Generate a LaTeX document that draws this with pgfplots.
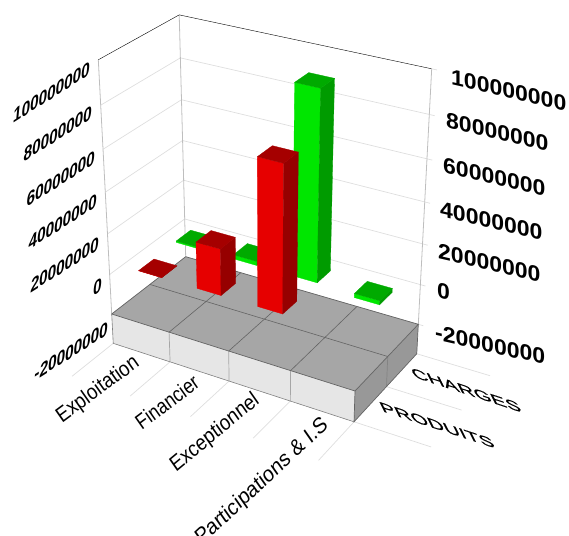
\documentclass[border=0pt]{standalone}
\usepackage{fontspec}
\setmainfont{Liberation Sans}
\newfontfamily\mediumfont[FakeBold=0.5]{Liberation Sans}
\usepackage{pgfplots}
\pgfplotsset{compat=1.18}
\definecolor{wallgrid}{RGB}{222,222,222}
\definecolor{walledge}{RGB}{190,190,190}
\definecolor{slabtop}{RGB}{166,166,166}
\definecolor{slabfront}{RGB}{230,230,230}
\definecolor{slabside}{RGB}{152,152,152}
\definecolor{slabline}{RGB}{100,100,100}
\definecolor{redfront}{RGB}{230,0,0}
\definecolor{redside}{RGB}{150,0,0}
\definecolor{redtop}{RGB}{165,0,0}
\definecolor{greenfront}{RGB}{0,230,0}
\definecolor{greenside}{RGB}{0,155,0}
\definecolor{greentop}{RGB}{0,170,0}
% Perspective projection of the chart box: x in category cells (0..4),
% y in series cells (0..2), z in millions (-20..100).
\tikzset{declare function={
  pw(\x,\y,\z)=1-0.07392*\x/4+0.06612*\y/2-0.08*(\z+20)/120;
  pu(\x,\y,\z)=(111.7+217.06*\x/4+86.28*\y/2-21.26*(\z+20)/120)/pw(\x,\y,\z);
  pv(\x,\y,\z)=(314+48.1*\x/4-40.33*\y/2-259*(\z+20)/120)/pw(\x,\y,\z);
}}
% One polygon or polyline given by its box coordinates
\newcommand\shape[2]{\addplot[#1] table[row sep=\\,
  x expr={pu(\thisrow{x},\thisrow{y},\thisrow{z})},
  y expr={pv(\thisrow{x},\thisrow{y},\thisrow{z})}]{x y z\\ #2};}
% One bar: category centre, series centre, value (millions), three colours
\newcommand\cube[6]{%
  \pgfmathsetmacro\ztop{max(#3,0)}%
  \addplot[fill=#4,draw=#4,line width=.3pt] table[row sep=\\,
    x expr={pu(#1+\thisrow{a}*.2,#2-.2,\thisrow{c}*#3)},
    y expr={pv(#1+\thisrow{a}*.2,#2-.2,\thisrow{c}*#3)}]
    {a c\\ -1 0\\ 1 0\\ 1 1\\ -1 1\\ -1 0\\};
  \addplot[fill=#5,draw=#5,line width=.3pt] table[row sep=\\,
    x expr={pu(#1+.2,#2+\thisrow{b}*.2,\thisrow{c}*#3)},
    y expr={pv(#1+.2,#2+\thisrow{b}*.2,\thisrow{c}*#3)}]
    {b c\\ -1 0\\ 1 0\\ 1 1\\ -1 1\\ -1 0\\};
  \addplot[fill=#6,draw=#6,line width=.3pt] table[row sep=\\,
    x expr={pu(#1+\thisrow{a}*.2,#2+\thisrow{b}*.2,\ztop)},
    y expr={pv(#1+\thisrow{a}*.2,#2+\thisrow{b}*.2,\ztop)}]
    {a b\\ -1 -1\\ 1 -1\\ 1 1\\ -1 1\\ -1 -1\\};
}
\newcommand\greenbar[3]{\cube{#1}{#2}{#3}{greenfront}{greenside}{greentop}}
\newcommand\redbar[3]{\cube{#1}{#2}{#3}{redfront}{redside}{redtop}}
\tikzset{
  lefttick/.style={font=\fontsize{17}{17}\selectfont\bfseries,anchor=east,inner sep=0pt,cm={.9,.57,.12,1.2,(0,0)}},
  righttick/.style={font=\fontsize{23}{23}\selectfont\bfseries,anchor=west,inner sep=0pt,cm={1,-.23,0,.95,(0,0)}},
  catlabel/.style={font=\fontsize{21}{21}\selectfont,inner sep=0pt,anchor=center},
  serlabel/.style={font=\fontsize{18}{18}\selectfont\mediumfont,inner sep=0pt,anchor=center,cm={1.22,-.4,-.4,.8,(0,0)}},
}
\begin{document}
\begin{tikzpicture}[x=1pt,y=1pt]
\clip (0,0) rectangle (569,535);
\begin{axis}[at={(0,0)},anchor=south west,scale only axis,width=569pt,height=535pt,
  xmin=0,xmax=569,ymin=0,ymax=535,y dir=reverse,hide axis,clip=false]
% Wall grid lines at every major z value
\pgfplotsinvokeforeach{-20,0,20,40,60,80}{
  \shape{wallgrid,line width=.7pt}{0 0 #1\\ 0 2 #1\\ 4.08 2 #1\\}
}
% Floor guide lines outside the slab
\pgfplotsinvokeforeach{0,1,2,3,4}{
  \shape{wallgrid,line width=.7pt}{#1 0 -35.2\\ #1 -1.02 -35.2\\}
}
\pgfplotsinvokeforeach{0,1,2}{
  \shape{wallgrid,line width=.7pt}{4 #1 -35.2\\ 5.16 #1 -35.2\\}
}
% Wall edges
\shape{walledge,line width=.8pt}{0 0 -20\\ 0 0 100\\}
\shape{walledge,line width=.8pt}{0 2 -20\\ 0 2 100\\}
\shape{walledge,line width=.8pt}{4 2 -20\\ 4 2 100\\}
\shape{black,line width=.4pt}{0 0 100\\ 0 2 100\\ 4 2 100\\}
\shape{wallgrid,line width=.7pt}{4 2 100\\ 4.08 2 100\\}
% Floor slab
\shape{fill=slabfront,draw=none}{0 0 -20\\ 4 0 -20\\ 4 0 -35.2\\ 0 0 -35.2\\ 0 0 -20\\}
\shape{fill=slabside,draw=none}{4 0 -20\\ 4 2 -20\\ 4 2 -35.2\\ 4 0 -35.2\\ 4 0 -20\\}
\shape{fill=slabtop,draw=none}{0 0 -20\\ 4 0 -20\\ 4 2 -20\\ 0 2 -20\\ 0 0 -20\\}
\pgfplotsinvokeforeach{1,2,3}{
  \shape{slabline,line width=.6pt}{#1 0 -20\\ #1 2 -20\\}
  \shape{gray!70,line width=.7pt}{#1 0 -20\\ #1 0 -35.2\\}
}
\shape{slabline,line width=.6pt}{0 1 -20\\ 4 1 -20\\}
\shape{slabline!80,line width=.7pt}{4 1 -20\\ 4 1 -35.2\\}
\shape{slabline,line width=.7pt}{0 2 -20\\ 0 0 -20\\ 4 0 -20\\ 4 2 -20\\ 0 2 -20\\}
\shape{slabline,line width=.7pt}{4 0 -20\\ 4 0 -35.2\\ 4 2 -35.2\\ 4 2 -20\\}
\shape{gray,line width=.6pt}{0 0 -20\\ 0 0 -35.2\\ 4 0 -35.2\\}
% CHARGES, back row
\greenbar{0.5}{1.5}{0.7}
\greenbar{1.5}{1.5}{2.0}
\greenbar{2.5}{1.5}{90.8}
\greenbar{3.5}{1.5}{-2.0}
% PRODUITS, front row
\redbar{0.5}{0.5}{0.1}
\redbar{1.5}{0.5}{22.5}
\redbar{2.5}{0.5}{69.6}
% Value labels on the left wall
\node[lefttick] at (axis cs:90,68) {100000000};
\node[lefttick] at (axis cs:92,112) {80000000};
\node[lefttick] at (axis cs:95,157) {60000000};
\node[lefttick] at (axis cs:97,200) {40000000};
\node[lefttick] at (axis cs:99,243) {20000000};
\node[lefttick] at (axis cs:102,284) {0};
\node[lefttick] at (axis cs:108,328) {-20000000};
% Value labels on the right wall
\node[righttick] at (axis cs:451,77) {100000000};
\node[righttick] at (axis cs:446,120) {80000000};
\node[righttick] at (axis cs:443,165) {60000000};
\node[righttick] at (axis cs:440,209) {40000000};
\node[righttick] at (axis cs:438,251) {20000000};
\node[righttick] at (axis cs:437,290) {0};
\node[righttick] at (axis cs:435,332) {-20000000};
% Category and series names
\node[catlabel,cm={.72,.53,-.58,.83,(0,0)}] at (axis cs:98,390) {Exploitation};
\node[catlabel,cm={.68,.51,-.58,.83,(0,0)}] at (axis cs:167,402) {Financier};
\node[catlabel,cm={.7,.58,-.58,.83,(0,0)}] at (axis cs:215,433) {Exceptionnel};
\node[catlabel,cm={.72,.67,-.58,.83,(0,0)}] at (axis cs:262,482) {Participations \& I.S};
\node[serlabel] at (axis cs:466,390) {CHARGES};
\node[serlabel] at (axis cs:437,425) {PRODUITS};
\end{axis}
\end{tikzpicture}
\end{document}
